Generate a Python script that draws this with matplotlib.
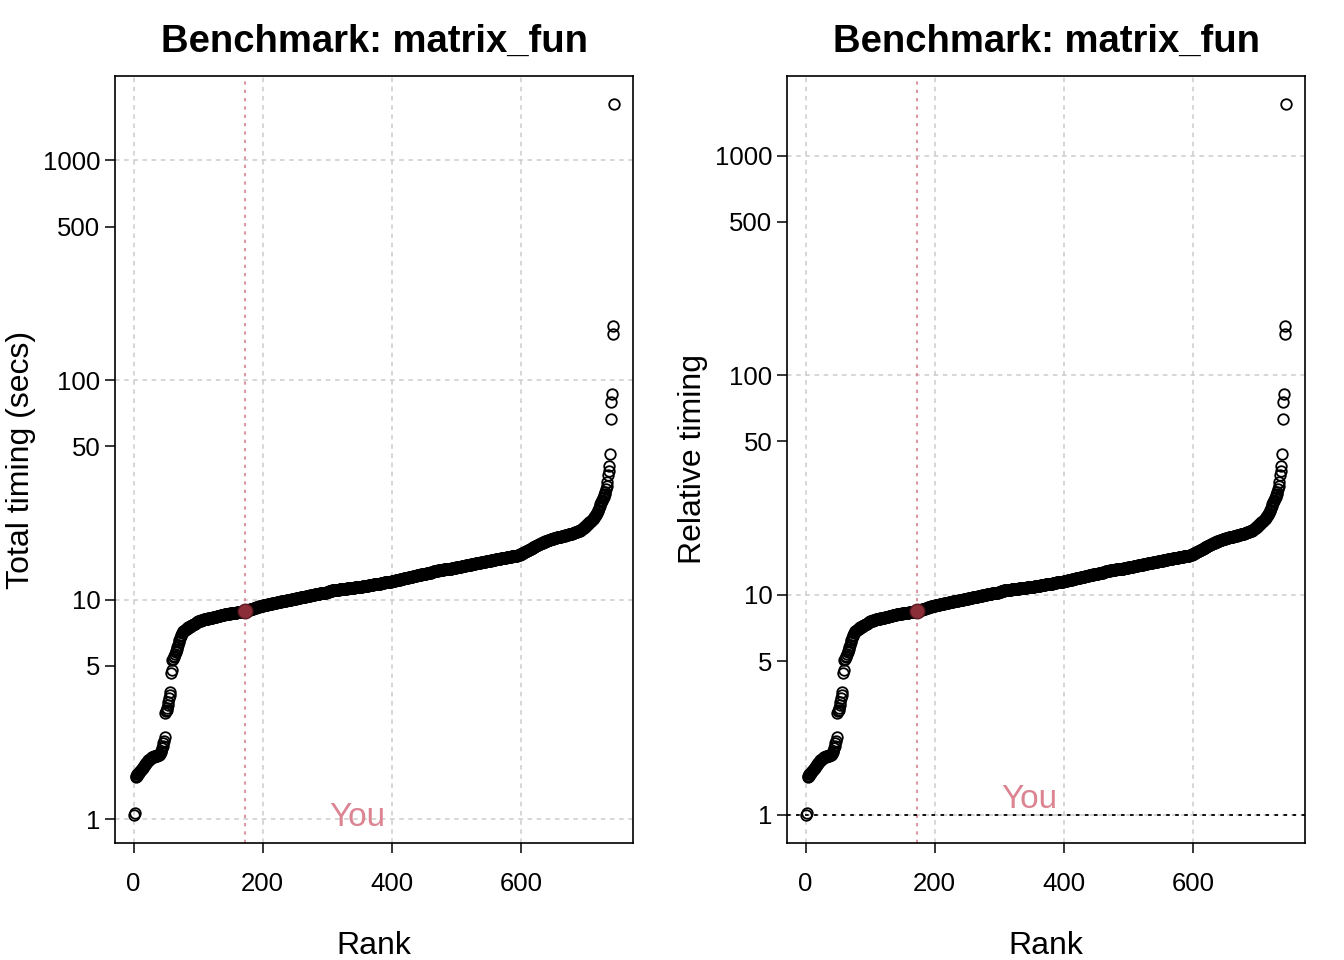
import numpy as np
import matplotlib
matplotlib.use("Agg")
import matplotlib.pyplot as plt

plt.rcParams['font.family'] = ['Liberation Sans', 'DejaVu Sans']

# sorted benchmark timings (secs), rank 1..744
t_start = [1.05, 1.07,
           1.55, 1.57, 1.58, 1.60, 1.61, 1.62, 1.64, 1.65,
           1.67, 1.68, 1.70, 1.71, 1.73, 1.74, 1.76,
           1.78, 1.80, 1.81, 1.83, 1.85,
           1.86, 1.87, 1.88, 1.89, 1.91, 1.92,
           1.92, 1.93, 1.93, 1.94, 1.94, 1.95, 1.95, 1.95, 1.96, 1.96, 1.97, 1.97,
           1.99, 2.02, 2.05, 2.10, 2.16, 2.22, 2.28, 2.38,
           3.05, 3.10, 3.15, 3.22, 3.30, 3.42, 3.55, 3.68, 3.80,
           4.62, 4.80,
           5.30, 5.38, 5.47, 5.56, 5.65, 5.75, 5.86, 5.97, 6.10, 6.24, 6.38, 6.52,
           6.66, 6.80, 6.92, 7.02, 7.12,
           7.16, 7.21, 7.26, 7.30, 7.34, 7.38, 7.42, 7.45, 7.48, 7.51, 7.54, 7.57,
           7.60, 7.63, 7.66, 7.69, 7.72, 7.75, 7.78, 7.81, 7.84, 7.87, 7.91, 7.95]

t_knee = [7.97, 7.99, 8.01, 8.03, 8.05, 8.07, 8.09, 8.10, 8.12, 8.13,
          8.15, 8.16, 8.18, 8.19, 8.20, 8.21, 8.22, 8.23, 8.24, 8.25,
          8.27, 8.28, 8.30, 8.31, 8.33, 8.34, 8.36, 8.37, 8.39, 8.40,
          8.42, 8.43, 8.45, 8.46, 8.48, 8.49, 8.51, 8.52, 8.54, 8.55,
          8.56, 8.57, 8.58, 8.59, 8.60, 8.61, 8.62, 8.63, 8.64, 8.65,
          8.66, 8.67, 8.68, 8.69, 8.70, 8.70, 8.71, 8.72, 8.73, 8.74,
          8.75, 8.76, 8.77, 8.77, 8.78, 8.79, 8.80, 8.81, 8.82, 8.83,
          8.84, 8.85,
          8.87, 8.89, 8.91, 8.93, 8.95, 8.97, 8.99, 9.01, 9.03, 9.05,
          9.07, 9.09, 9.11, 9.13, 9.15, 9.17, 9.19, 9.21, 9.23, 9.25,
          9.27, 9.29, 9.31, 9.33, 9.35, 9.37, 9.38, 9.40]

t_middle = [9.41, 9.43, 9.44, 9.46, 9.47, 9.49, 9.50, 9.52, 9.53, 9.55,
            9.56, 9.58, 9.59, 9.60, 9.62, 9.63, 9.65, 9.66, 9.67, 9.69,
            9.70, 9.71, 9.73, 9.74, 9.75, 9.77, 9.78, 9.79, 9.81, 9.82,
            9.83, 9.85, 9.86, 9.87, 9.89, 9.90, 9.91, 9.93, 9.94, 9.95,
            9.97, 9.98, 9.99, 10.01, 10.02, 10.03, 10.05, 10.06, 10.08, 10.09,
            10.11, 10.12, 10.14, 10.15, 10.17, 10.18, 10.20, 10.21, 10.23, 10.24,
            10.26, 10.27, 10.29, 10.30, 10.32, 10.33, 10.35, 10.36, 10.38, 10.39,
            10.41, 10.42, 10.44, 10.45, 10.47, 10.48, 10.50, 10.51, 10.53, 10.54,
            10.56, 10.57, 10.59, 10.60, 10.62, 10.63, 10.65, 10.66, 10.68, 10.69,
            10.70, 10.71, 10.72, 10.73, 10.74, 10.75, 10.76, 10.77, 10.78, 10.80,
            10.83, 10.86, 10.89, 10.92, 10.95, 10.97, 10.99, 11.01, 11.02, 11.03,
            11.04, 11.05, 11.06, 11.07, 11.08, 11.09, 11.10, 11.11, 11.12, 11.13,
            11.14, 11.15, 11.16, 11.17, 11.18, 11.19, 11.20, 11.21, 11.22, 11.23,
            11.24, 11.25, 11.26, 11.27, 11.28, 11.29, 11.30, 11.31, 11.32, 11.33,
            11.34, 11.35, 11.36, 11.37, 11.38, 11.39, 11.40, 11.41, 11.42, 11.43,
            11.44, 11.45, 11.46, 11.47, 11.48, 11.49, 11.50, 11.51, 11.53, 11.54,
            11.55, 11.57, 11.58, 11.60, 11.61, 11.63, 11.64, 11.66, 11.67, 11.69,
            11.70, 11.72, 11.73, 11.74, 11.75, 11.76, 11.77, 11.78, 11.79, 11.80,
            11.82, 11.84, 11.86, 11.88, 11.90, 11.92, 11.94, 11.96, 11.98, 12.00,
            12.01, 12.02, 12.03, 12.04, 12.05, 12.06, 12.07, 12.08, 12.09, 12.10]

t_upper = [12.12, 12.14, 12.16, 12.18, 12.20, 12.22, 12.24, 12.26, 12.28, 12.30,
           12.32, 12.34, 12.36, 12.38, 12.40, 12.42, 12.44, 12.46, 12.48, 12.50,
           12.52, 12.54, 12.56, 12.58, 12.60, 12.62, 12.64, 12.66, 12.68, 12.70,
           12.72, 12.74, 12.76, 12.78, 12.80, 12.82, 12.84, 12.86, 12.88, 12.90,
           12.92, 12.94, 12.96, 12.98, 13.00, 13.02, 13.04, 13.06, 13.08, 13.10,
           13.11, 13.12, 13.14, 13.15, 13.17, 13.18, 13.20, 13.22, 13.25, 13.28,
           13.31, 13.34, 13.37, 13.40, 13.43, 13.45, 13.47, 13.49, 13.51, 13.53,
           13.55, 13.57, 13.59, 13.61, 13.63, 13.65, 13.67, 13.68, 13.70, 13.71,
           13.72, 13.73, 13.74, 13.75, 13.76, 13.77, 13.78, 13.79, 13.80, 13.81,
           13.83, 13.85, 13.87, 13.89, 13.91, 13.93, 13.95, 13.97, 13.99, 14.01,
           14.03, 14.05, 14.07, 14.09, 14.11, 14.13, 14.15, 14.17, 14.19, 14.21,
           14.23, 14.25, 14.27, 14.29, 14.31, 14.33, 14.35, 14.37, 14.39, 14.41,
           14.43, 14.45, 14.47, 14.49, 14.51, 14.53, 14.55, 14.57, 14.59, 14.61,
           14.63, 14.65, 14.67, 14.69, 14.71, 14.73, 14.75, 14.77, 14.79, 14.81,
           14.83, 14.85, 14.87, 14.89, 14.91, 14.93, 14.95, 14.97, 14.99, 15.01,
           15.03, 15.05, 15.07, 15.09, 15.11, 15.13, 15.15, 15.17, 15.19, 15.21,
           15.23, 15.25, 15.27, 15.29, 15.31, 15.33, 15.35, 15.37, 15.39, 15.41,
           15.43, 15.45, 15.47, 15.49, 15.51, 15.53, 15.55, 15.57, 15.59, 15.61,
           15.63, 15.65, 15.67, 15.69, 15.71, 15.73, 15.75, 15.76, 15.78, 15.80,
           15.82, 15.84, 15.86, 15.88, 15.90, 15.93, 15.96, 16.00, 16.05, 16.10]

t_slow = [16.16, 16.22, 16.28, 16.34, 16.40, 16.46, 16.52, 16.58, 16.64, 16.70,
          16.76, 16.82, 16.88, 16.94, 17.00, 17.07, 17.14, 17.21, 17.28, 17.35,
          17.42, 17.49, 17.56, 17.63, 17.70, 17.76, 17.82, 17.88, 17.94, 18.00,
          18.05, 18.10, 18.15, 18.20, 18.25, 18.30, 18.35, 18.40, 18.45, 18.50,
          18.55, 18.60, 18.65, 18.70, 18.75, 18.80, 18.84, 18.88, 18.92, 18.96,
          19.00, 19.04, 19.08, 19.12, 19.16, 19.20, 19.23, 19.26, 19.29, 19.32,
          19.35, 19.38, 19.41, 19.44, 19.47, 19.50, 19.53, 19.56, 19.60, 19.64,
          19.68, 19.72, 19.76, 19.80, 19.84, 19.88, 19.92, 19.96, 20.00, 20.05,
          20.10, 20.15, 20.20, 20.25, 20.30, 20.35, 20.40, 20.45, 20.50, 20.56,
          20.62, 20.70, 20.80, 20.90, 21.00, 21.12, 21.24, 21.36, 21.48, 21.60,
          21.74, 21.88, 22.02, 22.16, 22.30, 22.45, 22.60, 22.75, 22.90, 23.05,
          23.22, 23.40, 23.60, 23.80, 24.00, 24.25, 24.50, 24.80, 25.20, 25.70,
          26.20, 26.70, 27.20, 27.70, 28.10, 28.50, 28.90, 29.40, 29.90, 30.40,
          31.00, 31.80, 32.90, 34.50, 36.80, 38.50, 40.80, 46.00]

t_outliers = [66.5, 79.4, 86.6, 162.0, 176.0, 1800.0]

you_rank = 172
you_label_x = 347
you_label_y = [1.02, 1.17]

timings = np.array(t_start + t_knee + t_middle + t_upper + t_slow + t_outliers)
ranks = np.arange(1, len(timings) + 1)
relative = timings / timings.min()

fig = plt.figure(figsize=(13.44, 9.6), dpi=100)
ax1 = fig.add_axes([0.0856, 0.1219, 0.3854, 0.799])
ax2 = fig.add_axes([0.5856, 0.1219, 0.3854, 0.799])

panels = [(ax1, timings, "Total timing (secs)", you_label_y[0]),
          (ax2, relative, "Relative timing", you_label_y[1])]

for ax, vals, ylab, ly in panels:
    ax.set_yscale('log')
    lo, hi = np.log10(vals.min()), np.log10(vals.max())
    pad = 0.04 * (hi - lo)
    ax.set_ylim(10 ** (lo - pad), 10 ** (hi + pad))
    xpad = 0.04 * (ranks[-1] - ranks[0])
    ax.set_xlim(ranks[0] - xpad, ranks[-1] + xpad)

    for g in [1, 10, 100, 1000]:
        ax.axhline(g, color='#CCCCCC', ls=(0, (3, 3)), lw=1.1, zorder=0)
    for g in [0, 200, 400, 600]:
        ax.axvline(g, color='#CCCCCC', ls=(0, (3, 3)), lw=1.1, zorder=0)

    ax.axvline(you_rank, color='#D9848F', ls=(0, (2, 3)), lw=1.2, zorder=1)

    ax.plot(ranks, vals, 'o', ms=7.6, mfc='none', mec='black', mew=1.3, zorder=2)
    ax.plot(you_rank, vals[you_rank - 1], 'o', ms=10.5, mfc='#8B2E38', mec='#5A1A22',
            mew=1, zorder=3)
    ax.text(you_label_x, ly, "You", color='#DC8491', fontsize=24,
            ha='center', va='center', zorder=3)

    ax.set_yticks([1, 5, 10, 50, 100, 500, 1000])
    ax.set_yticklabels(['1', '5', '10', '50', '100', '500', '1000'])
    ax.yaxis.set_minor_locator(matplotlib.ticker.NullLocator())
    ax.set_xticks([0, 200, 400, 600])
    ax.tick_params(axis='both', labelsize=18.5, length=7, width=1.1, direction='out')
    ax.tick_params(axis='x', pad=14)
    for s in ax.spines.values():
        s.set_linewidth(1.2)

    ax.set_title("Benchmark: matrix_fun", fontsize=27.5, fontweight='bold', pad=17)
    ax.set_xlabel("Rank", fontsize=23, labelpad=25)
    ax.set_ylabel(ylab, fontsize=23, labelpad=5)

ax2.axhline(1, color='black', ls=(0, (2, 3)), lw=1.3, zorder=1)

fig.savefig("out.png", dpi=100)
